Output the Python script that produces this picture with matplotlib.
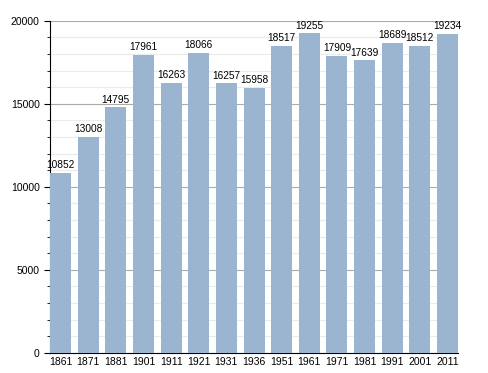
import matplotlib
matplotlib.use("Agg")
import matplotlib.pyplot as plt
from matplotlib.ticker import MultipleLocator

# données
years = ["1861", "1871", "1881", "1901", "1911", "1921", "1931", "1936",
         "1951", "1961", "1971", "1981", "1991", "2001", "2011"]
population = [10852, 13008, 14795, 17961, 16263, 18066, 16257, 15958,
              18517, 19255, 17909, 17639, 18689, 18512, 19234]

plt.rcParams['font.family'] = ['Liberation Sans', 'DejaVu Sans']

fig = plt.figure(figsize=(4.88, 3.73), dpi=100)
ax = fig.add_axes([0.1025, 0.054, 0.836, 0.89])

x = range(len(years))
w = 0.76
ax.bar(x, population, width=w, color="#9bb4d0", zorder=3)
for i, v in enumerate(population):
    ax.text(i, v + 150, str(v), ha="center", va="bottom", fontsize=7.3, zorder=4)

ax.set_xlim(-w / 2, len(years) - 1 + w / 2)
ax.set_ylim(0, 20000)
ax.yaxis.set_major_locator(MultipleLocator(5000))
ax.yaxis.set_minor_locator(MultipleLocator(1000))
ax.grid(axis="y", which="major", color="#aaaaaa", lw=0.8, zorder=1)
ax.grid(axis="y", which="minor", color="#ebebeb", lw=0.8, zorder=0)
ax.set_xticks(list(x))
ax.set_xticklabels(years, fontsize=7.5)
ax.tick_params(axis="x", length=0, pad=3)
ax.tick_params(axis="y", which="major", length=4, labelsize=7.5)
ax.tick_params(axis="y", which="minor", length=2)

for s in ("top", "right"):
    ax.spines[s].set_visible(False)
ax.spines["left"].set_linewidth(0.8)
ax.spines["bottom"].set_linewidth(0.8)

fig.savefig("out.png", dpi=100)
